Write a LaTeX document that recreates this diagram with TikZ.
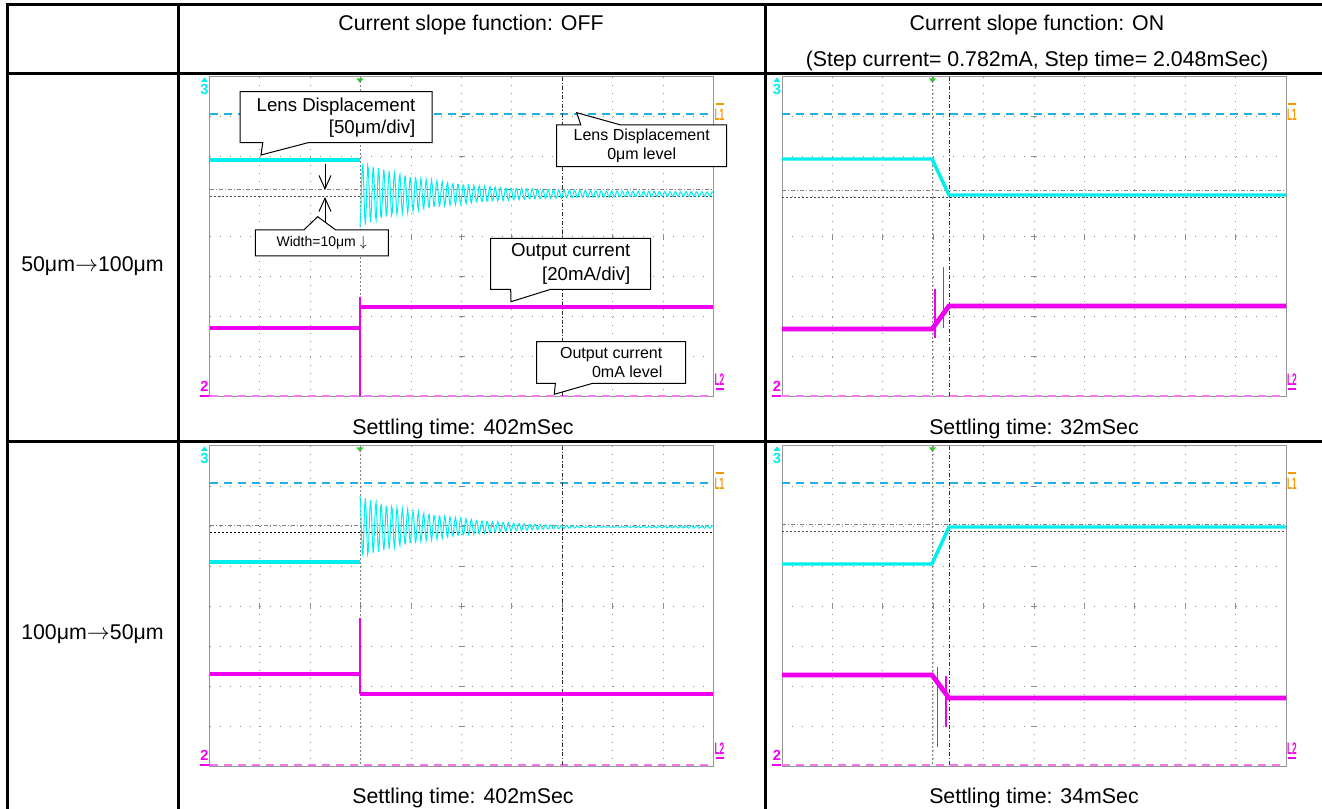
\documentclass[tikz,border=0pt]{standalone}
\usepackage{fontspec}
\setmainfont{Liberation Sans}
\usetikzlibrary{shapes.callouts,arrows.meta}

\definecolor{tracecyan}{RGB}{0,238,238}
\definecolor{tracemagenta}{RGB}{240,0,240}
\definecolor{levelcyan}{RGB}{30,176,230}
\definecolor{levelmagenta}{RGB}{245,120,240}
\definecolor{markorange}{RGB}{245,150,0}
\definecolor{triggreen}{RGB}{40,210,40}
\definecolor{framegray}{RGB}{150,150,150}
\definecolor{dotgray}{RGB}{140,140,140}

\tikzset{every picture/.style={line width=0.75pt}}
\tikzset{
  tableline/.style={line width=2.25pt},
  frameline/.style={draw=framegray},
  gridh/.style={dotgray, dash pattern=on 0.75pt off 6.81pt},
  gridv/.style={dotgray, dash pattern=on 0.75pt off 5.25pt},
  cyanlevel/.style={levelcyan, line width=1.5pt, dash pattern=on 6pt off 4.5pt},
  magentalevel/.style={levelmagenta, line width=1.5pt, dash pattern=on 6pt off 4.5pt},
  cyantrace/.style={tracecyan, line width=2.6pt},
  magentatrace/.style={tracemagenta, line width=3.6pt},
  spikeline/.style={draw=tracemagenta, line width=1pt},
  ringing/.style={tracecyan, line width=0.75pt},
  trigline/.style={gray, dash pattern=on 1.5pt off 1.5pt},
  cursorv/.style={black!80, dash pattern=on 3pt off 1.5pt on 0.75pt off 1.5pt},
  cursordash/.style={gray, dash pattern=on 3pt off 1.5pt on 0.75pt off 1.5pt},
  cursordot/.style={black!70, dash pattern=on 1.5pt off 1.5pt},
  celltext/.style={inner sep=0.75pt, anchor=base, font=\fontsize{16}{19}\selectfont},
  chlabel/.style={inner sep=0pt, font=\fontsize{11}{11}\bfseries\selectfont},
  levlabel/.style={inner sep=0pt, font=\fontsize{12.5}{12.5}\bfseries\selectfont},
  balloon/.style={rectangle callout, draw, fill=white, inner sep=0pt},
  gauge/.style={-{Straight Barb[length=10pt,width=9pt]}},
}

% scope screen: x0, y0, name
\newcommand{\scopepanel}[3]{%
  %Shape: Frame
  \draw[frameline] (#1,#2) rectangle ++(504,320);
  %Shape: Grid
  \foreach \i in {1,...,9} \draw[gridv] ({#1+\i*50.4},#2) -- ++(0,320);
  \foreach \j in {1,...,7} \draw[gridh] (#1,{#2+\j*40}) -- ++(504,0);
  \foreach \i in {1,...,9} \draw[dotgray] ({#1+\i*50.4},{#2+157}) -- ++(0,6);
  \foreach \j in {1,...,7} \draw[dotgray] ({#1+249},{#2+\j*40}) -- ++(6,0);
  %Shape: Levels
  \draw[cyanlevel] (#1,{#2+37}) -- ++(504,0);
  \draw[magentalevel] (#1,{#2+319}) -- ++(504,0);
  %Shape: Markers
  \fill[tracecyan] ({#1-8.5},{#2+5}) -- ({#1-1.5},{#2+5}) -- ({#1-5},{#2+0.5}) -- cycle;
  \fill[triggreen] ({#1+147},{#2+1.5}) -- ({#1+154},{#2+1.5}) -- ({#1+150.5},{#2+6}) -- cycle;
  \node[chlabel, text=tracecyan] (#3three) at ({#1-5},{#2+12}) {3};
  \node[chlabel, text=tracemagenta] (#3two) at ({#1-5},{#2+309}) {2};
  \draw[tracemagenta, line width=1.2pt] ({#1-10},{#2+319}) -- ({#1-1},{#2+319});
  \node[levlabel, text=markorange] (#3lone) at ({#1+510},{#2+38}) {\scalebox{0.5}[1]{L1}};
  \draw[markorange, line width=1.2pt] ({#1+506},{#2+27}) -- ({#1+514},{#2+27});
  \node[levlabel, text=tracemagenta] (#3ltwo) at ({#1+510},{#2+303}) {\scalebox{0.5}[1]{L2}};
  \draw[tracemagenta, line width=1.2pt] ({#1+506},{#2+312}) -- ({#1+514},{#2+312});
}

% ringing: x start, centre, amplitude, decay, cycles
\newcommand{\ringdown}[5]{%
  \draw[ringing] plot[domain=0:#5, samples=460]
    ({#1+5.3*\x},{#2+(#3*exp(-5.3*\x/#4)+2)*cos(360*(\x-floor(\x)))});
}

\begin{document}
\begin{tikzpicture}[x=0.75pt,y=0.75pt,yscale=-1,xscale=1]
\useasboundingbox (0,0) rectangle (1322,809);

%Shape: Table
\draw[tableline] (5.9,5) -- (1322,5);
\draw[tableline] (5.9,74) -- (1322,74);
\draw[tableline] (5.9,442) -- (1322,442);
\draw[tableline] (7,5) -- (7,809);
\draw[tableline] (178,5) -- (178,809);
\draw[tableline] (765,5) -- (765,809);

% Text Node
\node[celltext] (offhead) at (471,31) {Current slope function: OFF};
\node[celltext] (onhead) at (1037,31) {Current slope function: ON};
\node[celltext] (onstep) at (1037,67) {(Step current= 0.782mA, Step time= 2.048mSec)};
\node[celltext] (uprow) at (92.5,272) {50μm$\rightarrow$100μm};
\node[celltext] (downrow) at (92.5,639) {100μm$\rightarrow$50μm};
\node[celltext] (setoffup) at (463,435) {Settling time: 402mSec};
\node[celltext] (setonup) at (1034,435) {Settling time: 32mSec};
\node[celltext] (setoffdown) at (463,803) {Settling time: 402mSec};
\node[celltext] (setondown) at (1034,803) {Settling time: 34mSec};

%Shape: Screens
\scopepanel{209.5}{77}{pa}
\scopepanel{782}{77}{pb}
\scopepanel{209.5}{446}{pc}
\scopepanel{782}{446}{pd}

%Shape: Cursors
\draw[trigline] (360,77) -- (360,397);
\draw[cursorv] (562.5,77) -- (562.5,397);
\draw[cursordash] (210,190) -- (713,190);
\draw[cursordot] (210,197) -- (713,197);
\draw[trigline] (932,77) -- (932,397);
\draw[cursorv] (949,77) -- (949,397);
\draw[cursordash] (782,191) -- (1286,191);
\draw[cursordot] (782,198) -- (1286,198);
\draw[trigline] (360,446) -- (360,766);
\draw[cursorv] (562.5,446) -- (562.5,766);
\draw[cursordash] (210,525) -- (713,525);
\draw[cursordot, black] (210,532) -- (713,532);
\draw[trigline] (932,446) -- (932,766);
\draw[cursorv] (949,446) -- (949,766);
\draw[cursordash] (782,524) -- (1286,524);
\draw[cursordot] (782,531) -- (1286,531);

%Shape: Traces, slope off, 50->100
\draw[cyantrace] (210,160) -- (360,160);
\ringdown{360}{194}{31}{75}{66.6}
\draw[magentatrace] (210,328) -- (360,328);
\draw[spikeline] (360,297) -- (360,396);
\draw[magentatrace] (360,307) -- (713,307);

%Shape: Traces, slope on, 50->100
\draw[cyantrace] (782,159) -- (932,159) -- (949,195) -- (1286,195);
\draw[magentatrace] (782,329) -- (932,329) -- (949,306) -- (1286,306);
\draw[spikeline] (935,289) -- (935,338);
\draw[spikeline] (943.5,267) -- (943.5,328);

%Shape: Traces, slope off, 100->50
\draw[cyantrace] (210,562) -- (360,562);
\ringdown{360}{527}{-33}{90}{66.6}
\draw[magentatrace] (210,674) -- (360,674);
\draw[spikeline] (360,618) -- (360,694);
\draw[magentatrace] (360,694) -- (713,694);

%Shape: Traces, slope on, 100->50
\draw[cyantrace] (782,564) -- (932,564) -- (949,527) -- (1286,527);
\draw[magentatrace] (782,675) -- (932,675) -- (949,698) -- (1286,698);
\draw[spikeline] (937.5,667) -- (937.5,747);
\draw[spikeline] (946,676) -- (946,727);

%Shape: Width gauge
\coordinate (wtop) at (325,164);
\coordinate (wupper) at (325,190);
\coordinate (wlower) at (325,197);
\coordinate (wbottom) at (325,222);
\draw[gauge] (wtop) -- (wupper);
\draw[gauge] (wbottom) -- (wlower);

%Shape: Callouts
\coordinate (lenstip) at (261,155);
\coordinate (lenszero) at (576.7,112.7);
\coordinate (widthtip) at (317.7,216.7);
\coordinate (outtip) at (511,301.7);
\coordinate (outzero) at (554.3,394.3);
\node[balloon, minimum width=144pt, minimum height=38.25pt, callout absolute pointer=(lenstip), callout pointer width=34pt, align=right, font=\fontsize{14}{16.5}\selectfont] (lensnote) at (336,117.2) {Lens Displacement\\{}[50μm/div]};
\node[balloon, minimum width=127.5pt, minimum height=31.25pt, callout absolute pointer=(lenszero), callout pointer width=30pt, align=center, font=\fontsize{12}{14.25}\selectfont] (lenszeronote) at (641.7,145.8) {Lens Displacement\\0μm level};
\node[balloon, minimum width=99.75pt, minimum height=19.5pt, callout absolute pointer=(widthtip), callout pointer width=24pt, font=\fontsize{10.5}{12}\selectfont] (widthnote) at (321.8,243) {Width=10μm $\downarrow$};
\node[balloon, minimum width=120pt, minimum height=38.25pt, callout absolute pointer=(outtip), callout pointer width=30pt, align=right, font=\fontsize{14}{17.5}\selectfont] (outnote) at (570.7,263.8) {Output current\\{}[20mA/div]};
\node[balloon, minimum width=111.75pt, minimum height=31.2pt, callout absolute pointer=(outzero), callout pointer width=28pt, align=right, font=\fontsize{12}{13.8}\selectfont] (outzeronote) at (611.2,362.5) {Output current\\0mA level};

\end{tikzpicture}
\end{document}
